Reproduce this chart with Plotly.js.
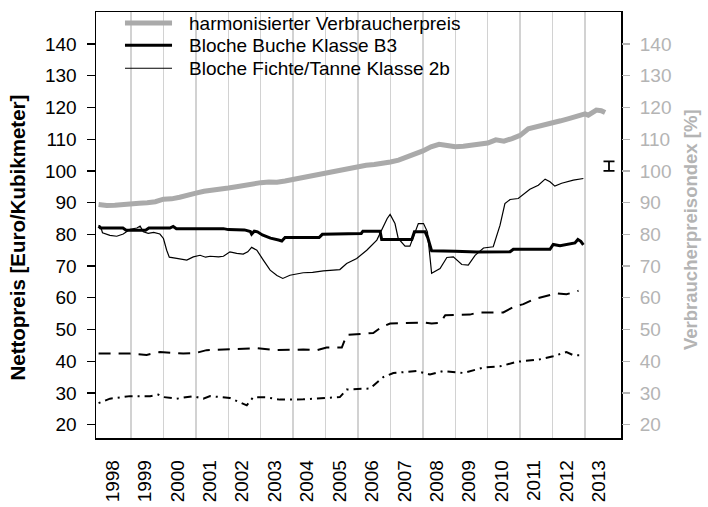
<!DOCTYPE html>
<html><head><meta charset="utf-8">
<script src="https://cdn.plot.ly/plotly-3.0.1.min.js"></script>
<style>html,body{margin:0;padding:0;background:#fff}#chart{width:708px;height:507px}</style>
</head><body><div id="chart"></div>
<script>
// ---- data (decimal years, values) ----
const yearLabels = ["1998","1999","2000","2001","2002","2003","2004","2005","2006","2007","2008","2009","2010","2011","2012","2013"];
const yearStarts = [1999,2000,2001,2002,2003,2004,2005,2006,2007,2008,2009,2010,2011,2012,2013];

const cpiX = [1998.0,1998.25,1998.5,1998.75,1999.0,1999.25,1999.5,1999.75,2000.0,2000.25,2000.5,2000.75,2001.0,2001.25,2001.5,2001.75,2002.0,2002.25,2002.5,2002.75,2003.0,2003.25,2003.5,2003.75,2004.0,2004.25,2004.5,2004.75,2005.0,2005.25,2005.5,2005.75,2006.0,2006.25,2006.5,2006.75,2007.0,2007.25,2007.5,2007.75,2008.0,2008.25,2008.5,2008.75,2009.0,2009.25,2009.5,2009.75,2010.0,2010.25,2010.5,2010.75,2011.0,2011.25,2011.5,2011.75,2012.0,2012.25,2012.5,2012.75,2013.0,2013.1,2013.35,2013.5,2013.62];
const cpiY = [89.4,89.1,89.2,89.3,89.7,89.8,90.0,90.3,91.1,91.2,91.7,92.2,93.0,93.6,93.9,94.0,94.6,95.0,95.5,95.8,96.3,96.5,96.4,96.8,97.3,97.8,98.2,98.6,99.5,100.0,100.4,100.7,101.2,101.8,102.0,102.3,102.8,103.4,104.3,105.2,106.3,107.6,108.4,108.0,107.6,107.8,108.2,108.4,108.8,109.8,109.4,110.2,111.2,113.3,113.9,114.2,114.9,115.8,116.5,117.3,118.0,117.6,119.2,119.0,118.4];

const b3X = [1998.0,1998.06,1998.75,1998.85,1999.45,1999.55,2000.2,2000.3,2000.4,2001.85,2002.0,2002.5,2002.68,2002.72,2002.8,2002.9,2003.05,2003.3,2003.55,2003.65,2003.75,2004.8,2004.9,2005.5,2006.1,2006.15,2006.68,2006.73,2007.66,2007.74,2008.07,2008.15,2008.27,2009.0,2009.66,2010.69,2010.79,2011.92,2012.02,2012.23,2012.4,2012.54,2012.69,2012.78,2012.87,2012.95];
const b3Y = [82.6,82.0,82.0,81.3,81.3,82.0,82.0,82.5,81.8,81.8,81.5,81.4,80.9,80.1,81.0,80.8,79.8,78.8,78.2,77.9,79.0,79.0,80.0,80.1,80.3,81.0,81.0,78.4,78.4,80.8,80.8,79.0,74.8,74.7,74.4,74.5,75.3,75.3,76.8,76.4,76.8,77.1,77.3,78.4,77.8,76.7];

const fiX = [1998.0,1998.06,1998.12,1998.35,1998.56,1998.76,1998.97,1999.18,1999.28,1999.38,1999.53,1999.7,1999.89,2000.0,2000.1,2000.18,2000.41,2000.72,2000.92,2001.13,2001.3,2001.44,2001.7,2001.85,2002.05,2002.26,2002.46,2002.6,2002.72,2002.88,2003.08,2003.29,2003.5,2003.68,2003.9,2004.31,2004.6,2004.93,2005.44,2005.65,2005.96,2006.27,2006.58,2006.73,2006.9,2006.99,2007.14,2007.24,2007.45,2007.6,2007.76,2007.86,2008.02,2008.14,2008.27,2008.53,2008.74,2008.94,2009.2,2009.4,2009.61,2009.87,2010.17,2010.38,2010.53,2010.69,2010.94,2011.3,2011.56,2011.77,2011.92,2012.07,2012.28,2012.64,2012.95];
const fiY = [82.9,82.5,80.5,79.7,79.4,80.1,81.6,82.0,82.6,80.8,80.3,80.6,80.1,78.7,75.0,72.8,72.4,71.9,72.9,73.4,72.8,73.1,72.9,73.1,74.5,74.0,73.8,74.5,75.9,75.0,71.9,68.7,67.0,66.1,67.1,67.9,68.0,68.5,68.9,70.8,72.4,75.0,78.2,81.3,85.0,86.3,83.4,78.7,76.3,76.3,80.8,83.4,83.4,80.8,67.7,69.2,72.7,72.9,70.5,70.3,73.4,75.7,76.1,82.9,89.7,91.0,91.3,94.2,95.5,97.4,96.6,95.2,96.1,97.1,97.6];

const dashX = [1998.0,1998.97,1999.48,1999.89,2000.61,2001.0,2001.33,2002.26,2002.88,2003.49,2004.31,2004.73,2005.03,2005.5,2005.65,2006.47,2006.73,2006.99,2008.02,2008.27,2008.53,2008.69,2009.45,2009.71,2010.48,2010.79,2011.1,2011.41,2011.82,2012.13,2012.43,2012.8];
const dashY = [42.4,42.4,42.0,42.9,42.4,42.6,43.5,43.8,44.1,43.5,43.7,43.5,44.3,44.3,48.3,48.9,50.8,51.9,52.2,51.9,52.1,54.5,54.7,55.4,55.4,57.1,58.0,59.5,60.5,61.4,61.1,62.2];

const ddX = [1998.0,1998.35,1998.97,1999.59,1999.84,2000.0,2000.41,2000.92,2001.23,2001.44,2002.05,2002.31,2002.57,2002.77,2003.18,2003.59,2004.31,2005.44,2005.65,2006.37,2006.78,2007.09,2007.81,2008.22,2008.63,2009.25,2009.87,2010.38,2010.89,2011.61,2012.02,2012.43,2012.64,2012.95];
const ddY = [26.8,28.2,29.0,29.0,29.5,28.7,28.2,29.0,28.2,29.0,28.4,27.2,26.1,28.7,28.6,27.9,28.0,28.7,31.1,31.4,35.0,36.3,36.9,35.8,36.9,36.3,38.0,38.4,39.8,40.6,41.6,42.9,41.9,41.9];

const markX = [2013.74];
const markY = [101.5];
const markErr = [1.5];

const seriesNames = ["harmonisierter Verbraucherpreis","Bloche Buche Klasse B3","Bloche Fichte/Tanne Klasse 2b"];
const yTicks = [20,30,40,50,60,70,80,90,100,110,120,130,140];

// ---- chart ----
const F = "Liberation Sans, Arial, Helvetica, sans-serif";
const grey = "#aaaaaa";
const greyText = "#b4b4b4";
const yr = [15.8, 150.1];
const xr = [1997.92, 2014.11];
const labelPos = yearLabels.map(s => Number(s) + 0.43);

const styles = [
  {color: grey, width: 5},
  {color: "#000", width: 3},
  {color: "#000", width: 1.2}
];

const traces = [
  {x: dashX, y: dashY, mode: "lines", line: {color: "#000", width: 2, dash: "12px,8px"}, showlegend: false},
  {x: ddX, y: ddY, mode: "lines", line: {color: "#000", width: 2, dash: "2px,5px,8px,5px"}, showlegend: false},
  {x: cpiX, y: cpiY, name: seriesNames[0], mode: "lines", line: styles[0], showlegend: false},
  {x: b3X, y: b3Y, name: seriesNames[1], mode: "lines", line: styles[1], showlegend: false},
  {x: fiX, y: fiY, name: seriesNames[2], mode: "lines", line: styles[2], showlegend: false},
  {x: markX, y: markY, mode: "markers", marker: {size: 1, color: "#000", opacity: 0}, showlegend: false,
   error_y: {type: "data", array: markErr, visible: true, color: "#000", thickness: 1.8, width: 5.5}},
  {x: [xr[0]], y: [yr[0]], yaxis: "y2", mode: "markers", marker: {opacity: 0}, showlegend: false}
];

// manual legend (paper coordinates)
const legRows = [0.974, 0.922, 0.868];
const shapes = [
  {type: "rect", xref: "paper", yref: "paper", x0: 0.002, x1: 0.716, y0: 0.817, y1: 0.997,
   fillcolor: "#fff", line: {width: 0}, layer: "between"}
];
const annotations = [];
seriesNames.forEach((n, i) => {
  shapes.push({type: "line", xref: "paper", yref: "paper", x0: 0.0552, x1: 0.1448, y0: legRows[i], y1: legRows[i],
               line: styles[i], layer: "above"});
  annotations.push({text: n, xref: "paper", yref: "paper", x: 0.1733, y: legRows[i], xanchor: "left", yanchor: "middle",
                    showarrow: false, font: {family: F, size: 19, color: "#000"}});
});
annotations.push(
  {text: "<b>Nettopreis [Euro/Kubikmeter]</b>", xref: "paper", yref: "paper", x: -0.149, y: 0.47,
   xanchor: "center", yanchor: "middle", textangle: -90, showarrow: false, font: {family: F, size: 20.5, color: "#000"}},
  {text: "<b>Verbraucherpreisondex [%]</b>", xref: "paper", yref: "paper", x: 1.131, y: 0.49,
   xanchor: "center", yanchor: "middle", textangle: -90, showarrow: false, font: {family: F, size: 18.5, color: greyText}}
);

const layout = {
  width: 708, height: 507,
  margin: {l: 96, r: 87, t: 12, b: 69},
  paper_bgcolor: "#fff", plot_bgcolor: "#fff",
  font: {family: F, size: 19, color: "#000"},
  showlegend: false,
  xaxis: {range: xr, showgrid: false, zeroline: false,
          tickmode: "array", tickvals: labelPos, ticktext: yearLabels, tickangle: -90,
          ticks: "", ticklabelstandoff: 13, tickfont: {family: F, size: 19},
          showline: true, linecolor: "#000", linewidth: 1.5, mirror: true,
          minor: {tickmode: "array", tickvals: yearStarts, showgrid: true, gridcolor: "#d2d2d2", gridwidth: 1.5, ticks: ""}},
  yaxis: {range: yr, tickmode: "array", tickvals: yTicks,
          ticks: "outside", ticklen: 8, tickwidth: 1.2, tickcolor: "#000", ticklabelstandoff: 6,
          showgrid: false, zeroline: false, showline: true, linecolor: "#000", linewidth: 1.5, mirror: true,
          tickfont: {family: F, size: 19, color: "#000"}},
  yaxis2: {range: yr, overlaying: "y", side: "right", tickmode: "array", tickvals: yTicks,
           ticks: "outside", ticklen: 8, tickwidth: 1.2, tickcolor: greyText, ticklabelstandoff: 6,
           showgrid: false, zeroline: false, showline: false,
           tickfont: {family: F, size: 19, color: greyText}},
  shapes: shapes,
  annotations: annotations
};

Plotly.newPlot("chart", traces, layout, {staticPlot: true});
</script></body></html>
